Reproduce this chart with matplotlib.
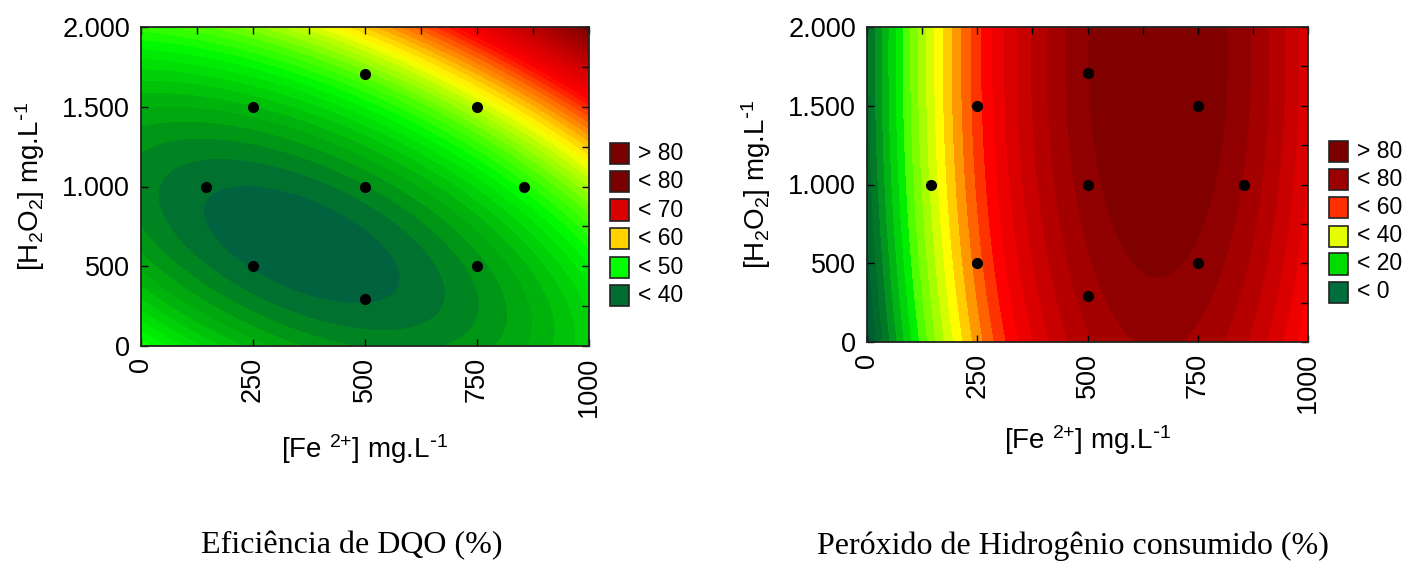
import numpy as np
import matplotlib
matplotlib.use("Agg")
import matplotlib.pyplot as plt
from matplotlib.colors import LinearSegmentedColormap, Normalize
from matplotlib.patches import Rectangle

plt.rcParams['font.family'] = ['Liberation Sans', 'DejaVu Sans']
plt.rcParams['mathtext.default'] = 'regular'

# pontos do planejamento composto central (mg/L)
fe_pts = [250, 250, 750, 750, 146, 854, 500, 500, 500]
h2o2_pts = [500, 1500, 500, 1500, 1000, 1000, 293, 1707, 1000]

# coeficientes do modelo quadratico em variaveis codificadas
# ordem: b0, b1 (Fe), b2 (H2O2), b11, b22, b12
coef_dqo = [41.88, 3.6, 4.8, 1.7, 2.4, 2.3]
coef_h2o2 = [78.1, 16.56, 2.12, -12.94, -0.66, 0.0]

# legendas (limites) e cores das caixas
leg_dqo = ['> 80', '< 80', '< 70', '< 60', '< 50', '< 40']
leg_dqo_cores = ['#7a0000', '#7a0000', '#d80000', '#ffd200', '#00ff00', '#006e32']
leg_h2o2 = ['> 80', '< 80', '< 60', '< 40', '< 20', '< 0']
leg_h2o2_cores = ['#7a0000', '#9a0000', '#ff3000', '#e6ff00', '#00dc00', '#006e3c']

# escala de cores (valor, cor)
esc_dqo = [(39.5, (0, 98, 62)), (40.5, (0, 115, 44)), (43, (0, 160, 15)), (49.5, (0, 250, 0)),
           (52, (60, 255, 0)), (59, (255, 255, 0)), (69, (255, 0, 0)), (84, (125, 0, 0))]
esc_h2o2 = [(-14, (0, 80, 55)), (-2, (0, 120, 40)), (14, (0, 240, 0)), (18, (80, 255, 0)),
            (34, (255, 255, 0)), (54, (255, 0, 0)), (82, (128, 0, 0))]

niveis_dqo = np.arange(40, 90, 1.0)
niveis_h2o2 = np.arange(-16, 84, 4.0)


def superficie(c, x, y):
    X = (x - 500) / 250
    Y = (y - 1000) / 500
    return c[0] + c[1]*X + c[2]*Y + c[3]*X**2 + c[4]*Y**2 + c[5]*X*Y


def mapa(esc):
    v0, v1 = esc[0][0], esc[-1][0]
    pos = [(v - v0) / (v1 - v0) for v, _ in esc]
    cores = [tuple(ch / 255 for ch in c) for _, c in esc]
    return LinearSegmentedColormap.from_list('m', list(zip(pos, cores))), Normalize(v0, v1)


def painel(ax, coef, esc, niveis, xpad):
    x = np.linspace(0, 1000, 400)
    y = np.linspace(0, 2000, 400)
    XX, YY = np.meshgrid(x, y)
    Z = superficie(coef, XX, YY)
    cmap, norm = mapa(esc)
    cmap.set_under(cmap(0.0))
    cmap.set_over(cmap(1.0))
    ax.contourf(XX, YY, Z, levels=niveis, cmap=cmap, norm=norm, extend='both')
    ax.plot(fe_pts, h2o2_pts, 'o', color='black', ms=7, zorder=3)
    ax.set_xlim(0, 1000)
    ax.set_ylim(0, 2000)
    ax.set_xticks([0, 250, 500, 750, 1000])
    ax.set_xticklabels(['0', '250', '500', '750', '1000'], rotation=90)
    ax.set_yticks([0, 500, 1000, 1500, 2000])
    ax.set_yticklabels(['0', '500', '1.000', '1.500', '2.000'])
    ax.set_xticks(np.arange(0, 1001, 125), minor=True)
    ax.set_yticks(np.arange(0, 2001, 250), minor=True)
    ax.tick_params(which='both', direction='in', top=True, right=True,
                   length=5, width=1, labelsize=19.5, pad=8)
    ax.tick_params(which='minor', bottom=False, left=False)
    for s in ax.spines.values():
        s.set_linewidth(1.3)
        s.set_color('#222222')
    ax.set_xlabel(r'[Fe $^{2{+}}$] mg.L$^{\text{-}1}$', fontsize=20, labelpad=xpad)
    ax.set_ylabel(r'[H$_2$O$_2$] mg.L$^{\text{-}1}$', fontsize=20, labelpad=11)


def legenda(fig, x0, ys, rotulos, cores):
    W, H = 1405, 561
    for yc, r, c in zip(ys, rotulos, cores):
        fig.add_artist(Rectangle((x0 / W, (H - yc - 10.5) / H), 19 / W, 21 / H,
                                 transform=fig.transFigure, facecolor=c,
                                 edgecolor='#222222', linewidth=1.2))
        fig.text((x0 + 28) / W, (H - yc) / H, r, fontsize=16.5, va='center', ha='left')


fig = plt.figure(figsize=(14.05, 5.61), dpi=100)
ax1 = fig.add_axes([141 / 1405, 1 - 346 / 561, 448 / 1405, 319 / 561])
ax2 = fig.add_axes([867 / 1405, 1 - 342 / 561, 441 / 1405, 315 / 561])

painel(ax1, coef_dqo, esc_dqo, niveis_dqo, 11)
painel(ax2, coef_h2o2, esc_h2o2, niveis_h2o2, 7)

legenda(fig, 610, [153, 181.5, 210, 238.5, 267, 295.5], leg_dqo, leg_dqo_cores)
legenda(fig, 1329, [151.5, 179.5, 207.5, 236, 264, 292], leg_h2o2, leg_h2o2_cores)

fig.text(352 / 1405, 1 - 546 / 561, 'Eficiência de DQO (%)', family='Liberation Serif',
         fontsize=23, ha='center', va='center')
fig.text(1073 / 1405, 1 - 546 / 561, 'Peróxido de Hidrogênio consumido (%)',
         family='Liberation Serif', fontsize=23, ha='center', va='center')

fig.savefig('out.png', dpi=100)
